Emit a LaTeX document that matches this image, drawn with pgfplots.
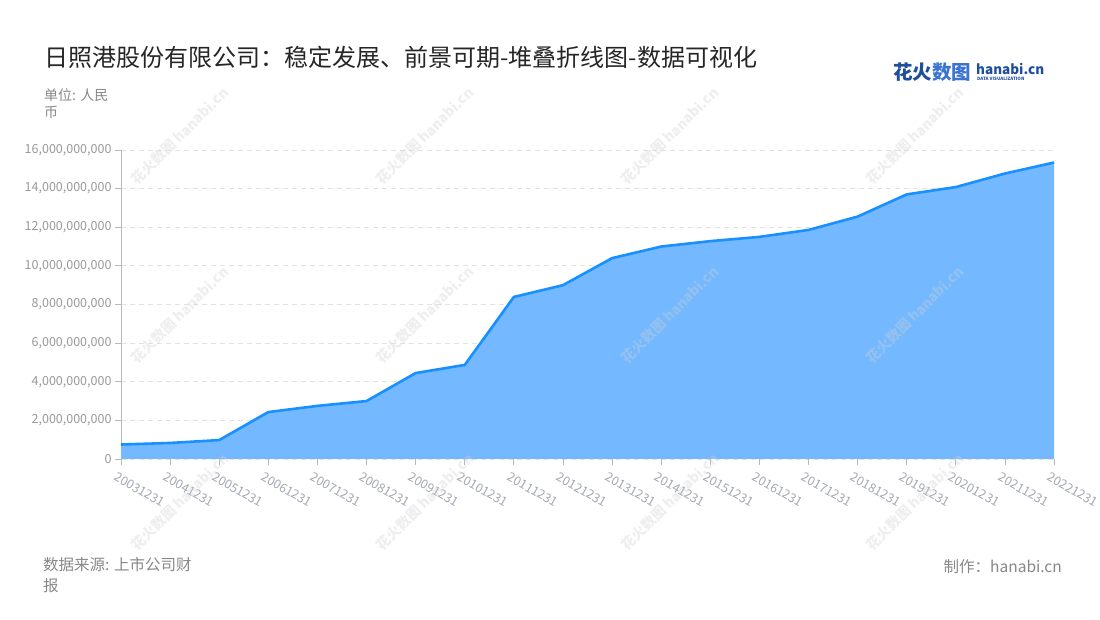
\documentclass[border=0pt]{standalone}
\usepackage{pgfplots}
\usepackage{pgfplotstable}
\pgfplotsset{compat=1.18}
\usepackage{fontspec}
\setmainfont{Noto Sans CJK SC}
\definecolor{linec}{HTML}{1890FF}
\definecolor{fillc}{HTML}{74B9FF}
\definecolor{ytickc}{HTML}{999999}
\definecolor{xtickc}{HTML}{A4A8B2}
\definecolor{axisc}{HTML}{B8B8B8}
\definecolor{gridc}{HTML}{E2E2E2}
\definecolor{subc}{HTML}{888888}
\definecolor{logoa}{HTML}{1F4E9E}
\definecolor{logob}{HTML}{3B73D1}
\definecolor{wmc}{HTML}{D0D0D0}

\pgfplotstableread{
x y
0 0.75e9
1 0.83e9
2 0.98e9
3 2.43e9
4 2.75e9
5 3.00e9
6 4.45e9
7 4.87e9
8 8.39e9
9 9.00e9
10 10.40e9
11 11.00e9
12 11.28e9
13 11.50e9
14 11.86e9
15 12.55e9
16 13.70e9
17 14.08e9
18 14.78e9
19 15.35e9
}\datatable

\begin{document}
\begin{tikzpicture}[x=1pt,y=1pt]
\path[use as bounding box, fill=white] (0,0) rectangle (1100,620);
\begin{axis}[
  at={(121pt,161pt)}, anchor=south west,
  scale only axis, width=933pt, height=309pt,
  xmin=0, xmax=19, ymin=0, ymax=16e9,
  enlarge x limits=false,
  axis lines*=left,
  axis line style={draw=axisc, line width=1pt},
  tick align=outside,
  major tick length=6pt,
  tick style={draw=axisc, line width=0.8pt},
  xtick={0,...,19},
  xticklabels={20031231,20041231,20051231,20061231,20071231,20081231,20091231,20101231,20111231,20121231,20131231,20141231,20151231,20161231,20171231,20181231,20191231,20201231,20211231,20221231},
  xticklabel style={rotate=-30, anchor=north west, xshift=-3pt, yshift=-4pt, font=\fontsize{12.5}{14}\selectfont, text=xtickc},
  ytick={0,2e9,4e9,6e9,8e9,10e9,12e9,14e9,16e9},
  scaled y ticks=false,
  yticklabel style={font=\fontsize{12.5}{14}\selectfont, text=ytickc, /pgf/number format/.cd, fixed, 1000 sep={,}, assume math mode=true},
  ymajorgrids,
  grid style={dashed, draw=gridc, line width=0.8pt, dash pattern=on 5pt off 4pt},
  clip=false,
]
\addplot[fill=fillc, draw=none] table[x=x,y=y]{\datatable} \closedcycle;
\addplot[draw=linec, line width=2.6pt, line join=round, mark=none] table[x=x,y=y]{\datatable};
\end{axis}

% watermarks
\foreach \cx in {180,425,670,915}{
  \foreach \cy in {484,305,118}{
    \node[rotate=45, text=wmc, opacity=0.35, font=\fontsize{14}{14}\selectfont\bfseries] at (\cx,\cy) {花火数图 hanabi.cn};
  }
}

% title
\node[anchor=west, font=\fontsize{24}{26}\selectfont, text=black!85] at (41,563) {日照港股份有限公司：稳定发展、前景可期-堆叠折线图-数据可视化};
% unit
\node[anchor=north west, align=left, font=\fontsize{14}{17}\selectfont, text=subc, inner sep=0pt] at (44,532) {单位: 人民\\币};
% footer
\node[anchor=north west, align=left, font=\fontsize{15.5}{21}\selectfont, text=subc, inner sep=0pt] at (43,63) {数据来源: 上市公司财\\报};
\node[anchor=east, font=\fontsize{15.5}{18}\selectfont, text=subc, inner sep=0pt] at (1062,53) {制作：hanabi.cn};
% logo
\node[anchor=west, inner sep=0pt, font=\fontsize{19.5}{20}\selectfont\bfseries] at (893,548) {\textcolor{logoa}{花火}\textcolor{logob}{数图}};
\node[anchor=west, inner sep=0pt, font=\fontsize{13.5}{14}\selectfont\bfseries, text=logoa] at (976,551) {hanabi.cn};
\node[anchor=west, inner sep=0pt, font=\fontsize{4.5}{5}\selectfont\bfseries, text=logoa] at (977,541) {DATA VISUALIZATION};
\end{tikzpicture}
\end{document}
